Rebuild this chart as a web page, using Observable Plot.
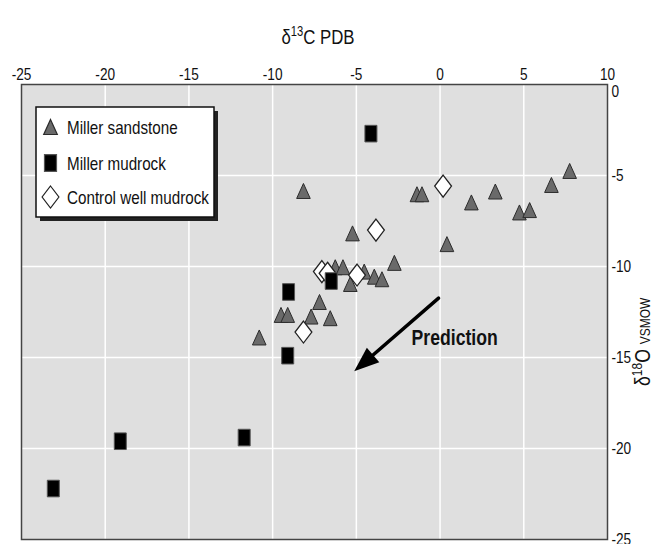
<!DOCTYPE html>
<html><head><meta charset="utf-8">
<script src="https://cdn.jsdelivr.net/npm/d3@7"></script>
<script src="https://cdn.jsdelivr.net/npm/@observablehq/plot@0.6"></script>
<style>
html,body{margin:0;padding:0;background:#fff;}
#chart{width:654px;height:544px;position:relative;}
</style></head><body><div id="chart"></div>
<script>
// ---- data ----
const xTicks = [-25, -20, -15, -10, -5, 0, 5, 10];
const yTicks = [0, -5, -10, -15, -20, -25];
const seriesNames = ["Miller sandstone", "Miller mudrock", "Control well mudrock"];

const sandstoneX = [-10.8, -9.5, -9.1, -7.7, -7.2, -6.56, -6.26, -5.8, -5.36, -4.53, -3.93, -3.47, -2.73, -8.16, -5.23, -1.38, -1.08, 0.41, 1.87, 3.3, 4.74, 5.35, 6.65, 7.74];
const sandstoneY = [-13.9, -12.66, -12.66, -12.75, -11.95, -12.84, -10.04, -10.04, -10.96, -10.28, -10.56, -10.7, -9.8, -5.85, -8.18, -6.03, -6.03, -8.77, -6.48, -5.88, -7.03, -6.9, -5.52, -4.75];

const mudrockX = [-23.1, -19.1, -11.7, -9.05, -9.1, -6.5, -4.13];
const mudrockY = [-22.2, -19.6, -19.4, -11.4, -14.9, -10.8, -2.7];

const controlX = [-7.06, -6.72, -4.96, -8.16, -3.83, 0.18];
const controlY = [-10.28, -10.37, -10.47, -13.6, -8.0, -5.58];

const arrowFrom = [-0.09, -11.74];
const arrowTo = [-5.13, -15.76];
const predictionLabel = {x: -1.7, y: -13.9, text: "Prediction"};

// ---- setup ----
const FONT = '"Liberation Sans", Arial, sans-serif';
const SQUEEZE = 0.8; // reference text is horizontally condensed
const W = 654, H = 544;
const dims = {width: W, height: H, marginLeft: 21, marginRight: 47, marginTop: 84, marginBottom: 5};
const xOpt = {domain: [-25, 10]};
const yOpt = {domain: [-25, 0]};

const sandstone = sandstoneX.map((x, i) => ({x, y: sandstoneY[i]}));
const mudrock = mudrockX.map((x, i) => ({x, y: mudrockY[i]}));
const control = controlX.map((x, i) => ({x, y: controlY[i]}));
const arrowData = [{x1: arrowFrom[0], y1: arrowFrom[1], x2: arrowTo[0], y2: arrowTo[1]}];

// custom symbols
const triSym = {draw(ctx) { ctx.moveTo(0, -7.5); ctx.lineTo(6.8, 7.5); ctx.lineTo(-6.8, 7.5); ctx.closePath(); }};
const rectSym = {draw(ctx) { ctx.moveTo(-6, -8.3); ctx.lineTo(6, -8.3); ctx.lineTo(6, 8.3); ctx.lineTo(-6, 8.3); ctx.closePath(); }};
const diaSym = {draw(ctx) { ctx.moveTo(0, -11); ctx.lineTo(8.4, 0); ctx.lineTo(0, 11); ctx.lineTo(-8.4, 0); ctx.closePath(); }};

// pre-plot to find pixel direction of the arrow
const pre = Plot.plot({...dims, x: xOpt, y: yOpt, marks: [Plot.dot([arrowFrom, arrowTo], {x: d => d[0], y: d => d[1]})]});
const sx = pre.scale("x"), sy = pre.scale("y");
const ang = Math.atan2(sy.apply(arrowTo[1]) - sy.apply(arrowFrom[1]), sx.apply(arrowTo[0]) - sx.apply(arrowFrom[0]));
const headSym = {draw(ctx) {
  const L = 25, hw = 9.5, c = Math.cos(ang), s = Math.sin(ang);
  const pts = [[0, 0], [-L, -hw], [-L, hw]].map(([u, v]) => [u * c - v * s, u * s + v * c]);
  ctx.moveTo(pts[0][0], pts[0][1]); ctx.lineTo(pts[1][0], pts[1][1]); ctx.lineTo(pts[2][0], pts[2][1]); ctx.closePath();
}};

const fmt = d => d.toString();

const chart = Plot.plot({
  ...dims,
  x: xOpt,
  y: yOpt,
  style: {fontFamily: FONT, fontSize: "17px", background: "white", color: "#111", overflow: "visible"},
  marks: [
    Plot.frame({fill: "#dfdfdf"}),
    Plot.gridX(xTicks.slice(1, -1), {stroke: "white", strokeOpacity: 1, strokeWidth: 1.5}),
    Plot.gridY(yTicks.slice(1, -1), {stroke: "white", strokeOpacity: 1, strokeWidth: 1.5}),
    Plot.axisX(xTicks, {anchor: "top", tickSize: 0, tickPadding: 5, tickFormat: fmt, label: null, fontSize: 17, fill: "#111"}),
    Plot.axisY(yTicks.slice(1), {anchor: "right", tickSize: 0, tickPadding: 4, tickFormat: fmt, label: null, fontSize: 17, fill: "#111"}),
    Plot.axisY([0], {anchor: "right", tickSize: 0, tickPadding: 4, tickFormat: fmt, label: null, fontSize: 17, fill: "#111", dy: 7}),
    Plot.dot(sandstone, {x: "x", y: "y", symbol: triSym, fill: "#6a6a6a", stroke: "#2b2b2b", strokeWidth: 1}),
    Plot.dot(control, {x: "x", y: "y", symbol: diaSym, fill: "white", stroke: "#222", strokeWidth: 1.3}),
    Plot.dot(mudrock, {x: "x", y: "y", symbol: rectSym, fill: "#000", stroke: "#555", strokeWidth: 1}),
    Plot.arrow(arrowData, {x1: "x1", y1: "y1", x2: "x2", y2: "y2", stroke: "#000", strokeWidth: 3.5, headLength: 0, insetEnd: 12}),
    Plot.dot([arrowTo], {x: d => d[0], y: d => d[1], symbol: headSym, fill: "#000", stroke: "none"}),
    Plot.text([predictionLabel], {x: "x", y: "y", text: "text", textAnchor: "start", fontSize: 22, fontWeight: "bold", fill: "#111"}),
    Plot.frame({stroke: "#444", strokeWidth: 1.5})
  ]
});

const svg = d3.select(chart);

// legend
const lg = svg.append("g").attr("font-family", FONT).attr("font-size", 19).attr("fill", "#111");
lg.append("rect").attr("x", 40).attr("y", 111).attr("width", 178).attr("height", 110).attr("fill", "#222");
lg.append("rect").attr("x", 36).attr("y", 107).attr("width", 178).attr("height", 110).attr("fill", "white").attr("stroke", "#111").attr("stroke-width", 1.5);
const syms = [triSym, rectSym, diaSym];
const fills = ["#6a6a6a", "#000", "white"];
const strokes = ["#2b2b2b", "#555", "#222"];
const rowsY = [127, 163, 197];
seriesNames.forEach((name, i) => {
  lg.append("path").attr("transform", `translate(50.5,${rowsY[i]})`).attr("d", d3.symbol(syms[i])())
    .attr("fill", fills[i]).attr("stroke", strokes[i]).attr("stroke-width", 1.2);
  lg.append("text").attr("x", 67).attr("y", rowsY[i]).attr("dy", "0.35em").attr("text-anchor", "start").text(name);
});

document.getElementById("chart").appendChild(chart);

// condense single-run text horizontally like the reference
chart.querySelectorAll("text").forEach(el => {
  if (el.querySelector("tspan")) return;
  const w = el.getComputedTextLength();
  if (w > 0) {
    el.setAttribute("textLength", (w * SQUEEZE).toFixed(1));
    el.setAttribute("lengthAdjust", "spacingAndGlyphs");
  }
});

// title (condensed by a horizontal scale)
const t = svg.append("text").attr("transform", `translate(318,44) scale(${SQUEEZE},1)`).attr("text-anchor", "middle")
  .attr("font-family", FONT).attr("font-size", 21).attr("fill", "#111");
t.append("tspan").text("δ");
t.append("tspan").attr("dy", -8).attr("font-size", 14).text("13");
t.append("tspan").attr("dy", 8).text("C PDB");

// y label, reading bottom to top along the right edge
const yl = svg.append("text").attr("transform", `translate(650,386) rotate(-90) scale(${SQUEEZE},1)`).attr("text-anchor", "start")
  .attr("font-family", FONT).attr("font-size", 22).attr("fill", "#111");
yl.append("tspan").text("δ");
yl.append("tspan").attr("dy", -8).attr("font-size", 15).text("18");
yl.append("tspan").attr("dy", 8).text("O ");
yl.append("tspan").attr("font-size", 15).text("VSMOW");
</script>
</body></html>
